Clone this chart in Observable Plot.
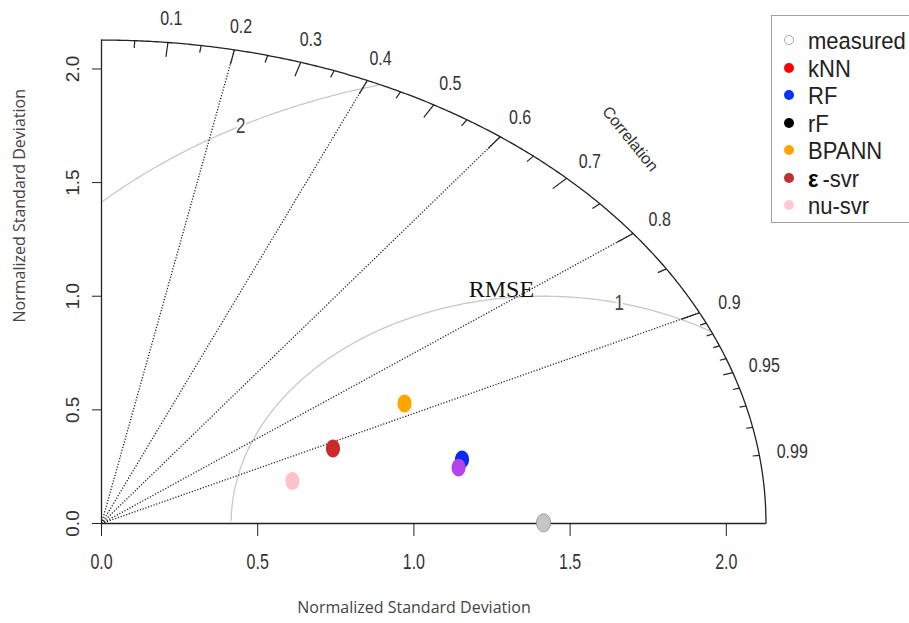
<!DOCTYPE html>
<html>
<head>
<meta charset="utf-8">
<script src="https://cdn.jsdelivr.net/npm/d3@7"></script>
<script src="https://cdn.jsdelivr.net/npm/@observablehq/plot@0.6"></script>
<style>
  html, body { margin: 0; padding: 0; background: #fff; overflow: hidden; }
  #wrap { position: relative; width: 909px; height: 623px; overflow: hidden; }
  #legend { position: absolute; left: 771px; top: 15px; width: 170px; height: 208px;
    border: 1px solid #a0a0a0; box-sizing: border-box; background: #fff;
    font-family: "Liberation Sans", Arial, sans-serif; font-size: 22px; color: #222; }
  .row { position: absolute; left: 0; height: 27px; line-height: 27px; white-space: nowrap; }
  .sym { position: absolute; left: 12px; top: 8px; width: 10px; height: 10px; border-radius: 50%; box-sizing: border-box; }
  .lab { position: absolute; left: 36px; top: 0; transform: scaleY(1.12); transform-origin: 0 50%; }
</style>
</head>
<body>
<div id="wrap"><div id="chart"></div><div id="legend"></div></div>
<script>
// ---- data ----
const maxSD = 2.127;            // outer arc radius
const refSD = 1.415;            // measured (reference) std. deviation
const sdTicks = [0, 0.5, 1.0, 1.5, 2.0];
const corrRays = [0.2, 0.4, 0.6, 0.8, 0.9];
const corrMajor = [0.1, 0.2, 0.3, 0.4, 0.5, 0.6, 0.7, 0.8, 0.9];
const corrMedium = [0.05, 0.15, 0.25, 0.35, 0.45, 0.55, 0.65, 0.75, 0.85, 0.95];
const corrMinor = [0.91, 0.92, 0.93, 0.94, 0.96, 0.97, 0.98, 0.99];
const corrLabels = [0.1, 0.2, 0.3, 0.4, 0.5, 0.6, 0.7, 0.8, 0.9, 0.95, 0.99];
const rmsRadii = [1, 2];
const rmsLabelAngle = [76, 119];   // degrees around the reference point

// plotted models (x = sd*corr, y = sd*sqrt(1-corr^2))
const pointNames  = ["measured", "nu-svr", "ε-svr", "BPANN", "RF", "(unlabelled)"];
const pointX      = [1.415, 0.611, 0.741, 0.970, 1.154, 1.143];
const pointY      = [0.003, 0.187, 0.330, 0.528, 0.282, 0.246];
const pointColors = ["#c6c6c6", "#ffc2cc", "#cc2a2a", "#ffa500", "#0a2af2", "#b444ea"];
const pointStroke = ["#8a8a8a", "none", "none", "none", "none", "none"];

// legend
const legendLabels = ["measured", "kNN", "RF", "rF", "BPANN", "ε-svr", "nu-svr"];
const legendColors = ["#a8a8a8", "#ff0000", "#0033ff", "#000000", "#ffa500", "#c0302c", "#ffcad4"];
const legendOpen   = [true, false, false, false, false, false, false];

const axisTitle = "Normalized Standard Deviation";
const corrTitle = "Correlation";
const rmseTitle = "RMSE";

// ---- derived geometry ----
const deg = Math.PI / 180;
const outerArc = d3.range(0, 90.01, 0.25).map(a => ({x: maxSD * Math.cos(a * deg), y: maxSD * Math.sin(a * deg)}));
const rays = corrRays.map(c => ({x1: 0, y1: 0, x2: maxSD * c, y2: maxSD * Math.sqrt(1 - c * c)}));
const tickSeg = (cs, f) => cs.map(c => {
  const s = Math.sqrt(1 - c * c);
  return {x1: maxSD * c, y1: maxSD * s, x2: maxSD * f * c, y2: maxSD * f * s};
});
const rmsArcs = rmsRadii.flatMap(g => d3.range(0, 180.01, 0.25)
  .map(a => ({g, x: refSD + g * Math.cos(a * deg), y: g * Math.sin(a * deg)}))
  .filter(p => p.x >= 0 && p.x * p.x + p.y * p.y <= maxSD * maxSD && p.y >= 0.01));
const rmsLab = rmsRadii.map((g, i) => ({g, x: refSD + g * Math.cos(rmsLabelAngle[i] * deg), y: g * Math.sin(rmsLabelAngle[i] * deg)}));
const corrLab = corrLabels.map(c => ({c, x: 1.05 * maxSD * c, y: 1.05 * maxSD * Math.sqrt(1 - c * c)}));
const points = pointNames.map((n, i) => ({n, x: pointX[i], y: pointY[i], fill: pointColors[i], stroke: pointStroke[i]}));

// ellipse symbol (the reference dots are slightly taller than wide)
const ellipse = {
  draw(ctx, size) {
    const r = Math.sqrt(size / Math.PI), rx = r * 0.88, ry = r * 1.12, k = 0.5522847498;
    ctx.moveTo(rx, 0);
    ctx.bezierCurveTo(rx, k * ry, k * rx, ry, 0, ry);
    ctx.bezierCurveTo(-k * rx, ry, -rx, k * ry, -rx, 0);
    ctx.bezierCurveTo(-rx, -k * ry, -k * rx, -ry, 0, -ry);
    ctx.bezierCurveTo(k * rx, -ry, rx, -k * ry, rx, 0);
    ctx.closePath();
  }
};

const tickFont = "'Liberation Sans', Arial, sans-serif";

const chart = Plot.plot({
  width: 909,
  height: 623,
  marginLeft: 101,
  marginRight: 27,
  marginTop: 23,
  marginBottom: 100,
  x: {domain: [0, 2.5]},
  y: {domain: [0, 2.2]},
  style: {background: "transparent", fontFamily: tickFont, color: "#333"},
  marks: [
    // RMS arcs
    Plot.line(rmsArcs, {x: "x", y: "y", z: "g", stroke: "#c8c8c8", strokeWidth: 1.3}),
    // correlation rays
    Plot.link(rays, {x1: "x1", y1: "y1", x2: "x2", y2: "y2", stroke: "#222", strokeWidth: 1.3, strokeDasharray: "1.2,1.7"}),
    // outer arc and axes lines
    Plot.line(outerArc, {x: "x", y: "y", stroke: "#222", strokeWidth: 1.3}),
    Plot.ruleY([0], {x1: 0, x2: maxSD, stroke: "#222", strokeWidth: 1.3}),
    Plot.ruleX([0], {y1: 0, y2: maxSD, stroke: "#222", strokeWidth: 1.3}),
    Plot.axisX({ticks: sdTicks, tickSize: 13, tickFormat: () => "", label: null, stroke: "#222"}),
    Plot.axisY({ticks: sdTicks, tickSize: 9, tickFormat: () => "", label: null, stroke: "#222"}),
    Plot.text(sdTicks, {x: d => d, y: 0, dy: 39, text: d => d.toFixed(1), fontSize: 16, fill: "#333", ariaDescription: "stretch-x"}),
    Plot.text(sdTicks, {x: 0, y: d => d, dx: -29, rotate: -90, text: d => d.toFixed(1), fontSize: 19, fill: "#333"}),
    // correlation ticks
    Plot.link(tickSeg(corrMajor, 0.97), {x1: "x1", y1: "y1", x2: "x2", y2: "y2", stroke: "#222", strokeWidth: 1.2}),
    Plot.link(tickSeg(corrMedium, 0.985), {x1: "x1", y1: "y1", x2: "x2", y2: "y2", stroke: "#222", strokeWidth: 1.2}),
    Plot.link(tickSeg(corrMinor, 0.99), {x1: "x1", y1: "y1", x2: "x2", y2: "y2", stroke: "#222", strokeWidth: 1.2}),
    Plot.text(corrLab, {x: "x", y: "y", text: d => String(d.c), fontSize: 16, fill: "#333", ariaDescription: "stretch-c"}),
    Plot.text([corrTitle], {x: () => 1.125 * maxSD * Math.SQRT1_2, y: () => 1.125 * maxSD * Math.SQRT1_2, text: d => d, rotate: 51, fontSize: 16, fill: "#333"}),
    // RMS labels
    Plot.text(rmsLab, {x: "x", y: "y", text: d => String(d.g), fontSize: 17, fill: "#444", stroke: "white", strokeWidth: 4, ariaDescription: "stretch-g"}),
    Plot.text([rmseTitle], {x: () => refSD - 0.135, y: () => 1.03, text: d => d, fontSize: 24, fontFamily: "'Liberation Serif', 'Times New Roman', serif", fill: "#111"}),
    // axis titles
    Plot.text([axisTitle], {frameAnchor: "bottom", dx: -78, dy: 89, text: d => d, fontSize: 16, fontFamily: "'Open Sans', sans-serif", fill: "#444"}),
    Plot.text([axisTitle], {frameAnchor: "left", dx: -82, dy: 49, rotate: -90, text: d => d, fontSize: 16, fontFamily: "'Open Sans', sans-serif", fill: "#444"}),
    // model points
    Plot.dot(points, {x: "x", y: "y", r: 8, symbol: ellipse, fill: "fill", stroke: "stroke", strokeWidth: 0.8}),
  ]
});
document.getElementById("chart").appendChild(chart);

// the reference's labels are drawn taller than wide: stretch them vertically about their anchor
const stretch = {"stretch-x": 1.35, "stretch-c": 1.28, "stretch-g": 1.35};
for (const [name, s] of Object.entries(stretch)) {
  chart.querySelectorAll(`g[aria-description="${name}"] text`).forEach(t => {
    const tr = t.getAttribute("transform");
    if (tr) {
      t.setAttribute("transform", `${tr} scale(1,${s})`);
    } else {
      const y = +(t.getAttribute("y") || 0);
      t.setAttribute("transform", `translate(0,${y}) scale(1,${s}) translate(0,${-y})`);
    }
  });
}

// legend
const leg = document.getElementById("legend");
legendLabels.forEach((lab, i) => {
  const row = document.createElement("div");
  row.className = "row";
  row.style.top = (11 + i * 27.5) + "px";
  const sym = document.createElement("div");
  sym.className = "sym";
  if (legendOpen[i]) { sym.style.border = "1.6px solid " + legendColors[i]; }
  else { sym.style.background = legendColors[i]; }
  const t = document.createElement("div");
  t.className = "lab";
  if (lab.startsWith("ε")) {
    const e = document.createElement("b");
    e.textContent = "ε";
    e.style.color = "#000";
    e.style.marginRight = "4px";
    t.appendChild(e);
    t.appendChild(document.createTextNode(lab.slice(1)));
  } else {
    t.textContent = lab;
  }
  row.appendChild(sym);
  row.appendChild(t);
  leg.appendChild(row);
});
</script>
</body>
</html>
